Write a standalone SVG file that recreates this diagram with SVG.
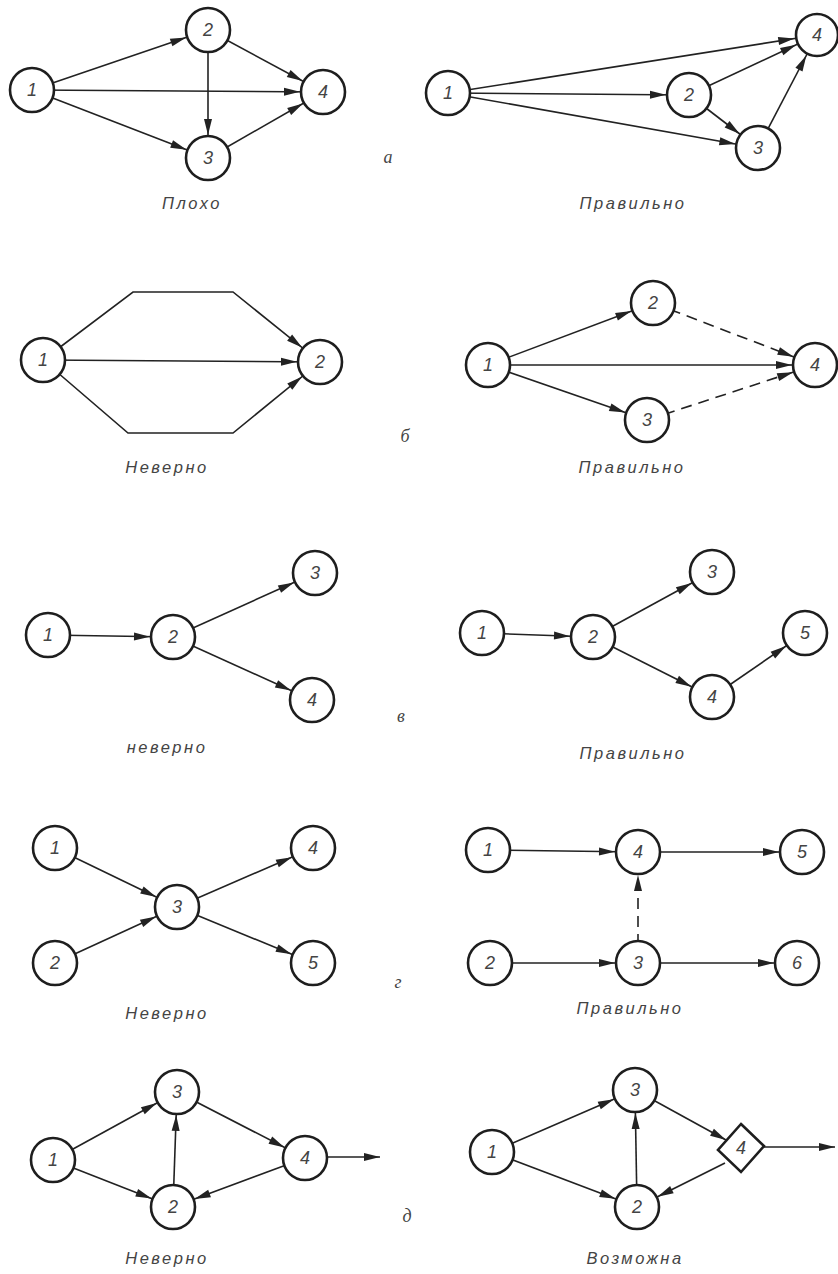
<svg xmlns="http://www.w3.org/2000/svg" width="838" height="1274" viewBox="0 0 838 1274">
  <style>
    .node circle, .node polygon { fill: #fff; stroke: #1e1e1e; stroke-width: 2.6; }
    .node text { font-family: "Liberation Sans", sans-serif; font-style: italic; font-size: 18px; fill: #444; text-anchor: middle; dominant-baseline: central; }
    .edge { fill: none; stroke: #222; stroke-width: 1.6; }
    .to-node { marker-end: url(#head-node); }
    .to-point { marker-end: url(#head); }
    .dash { stroke-dasharray: 11 7; }
    .caption { font-family: "Liberation Sans", sans-serif; font-style: italic; font-size: 16.5px; letter-spacing: 2.5px; fill: #444; text-anchor: middle; }
    .tag { font-family: "Liberation Serif", serif; font-style: italic; font-size: 18px; fill: #444; text-anchor: middle; }
  </style>
  <defs>
    <!-- arrowhead whose tip stops on the rim of a node circle (r 22 + half stroke) -->
    <marker id="head-node" markerUnits="userSpaceOnUse" viewBox="0 0 39 8" markerWidth="39" markerHeight="8" refX="39" refY="4" orient="auto" overflow="visible">
      <path d="M0,0 L16,4 L0,8 z" fill="#222"/>
    </marker>
    <!-- arrowhead whose tip sits on the path end -->
    <marker id="head" markerUnits="userSpaceOnUse" viewBox="0 0 16 8" markerWidth="16" markerHeight="8" refX="16" refY="4" orient="auto" overflow="visible">
      <path d="M0,0 L16,4 L0,8 z" fill="#222"/>
    </marker>
  </defs>
  <rect width="838" height="1274" fill="#fff"/>

  <g id="connectors">
    <!-- а, left -->
    <line class="edge to-node" x1="32" y1="90" x2="208" y2="30"/>
    <line class="edge to-node" x1="32" y1="90" x2="323" y2="92"/>
    <line class="edge to-node" x1="32" y1="90" x2="208" y2="158"/>
    <line class="edge to-node" x1="208" y1="30" x2="208" y2="158"/>
    <line class="edge to-node" x1="208" y1="30" x2="323" y2="92"/>
    <line class="edge to-node" x1="208" y1="158" x2="323" y2="92"/>
    <!-- а, right -->
    <line class="edge to-node" x1="448" y1="93" x2="817" y2="35"/>
    <line class="edge to-node" x1="448" y1="93" x2="689" y2="95"/>
    <line class="edge to-node" x1="448" y1="93" x2="758" y2="148"/>
    <line class="edge to-node" x1="689" y1="95" x2="817" y2="35"/>
    <line class="edge to-node" x1="689" y1="95" x2="758" y2="148"/>
    <line class="edge to-node" x1="758" y1="148" x2="817" y2="35"/>
    <!-- б, left -->
    <path class="edge to-node" d="M43,360 L133,292 L233,292 L320,362"/>
    <line class="edge to-node" x1="43" y1="360" x2="320" y2="362"/>
    <path class="edge to-node" d="M43,360 L128,433 L233,433 L320,362"/>
    <!-- б, right -->
    <line class="edge to-node" x1="488" y1="365" x2="653" y2="303"/>
    <line class="edge to-node" x1="488" y1="365" x2="815" y2="365"/>
    <line class="edge to-node" x1="488" y1="365" x2="647" y2="420"/>
    <line class="edge to-node dash" x1="653" y1="303" x2="815" y2="365"/>
    <line class="edge to-node dash" x1="647" y1="420" x2="815" y2="365"/>
    <!-- в, left -->
    <line class="edge to-node" x1="48" y1="635" x2="173" y2="637"/>
    <line class="edge to-node" x1="173" y1="637" x2="315" y2="573"/>
    <line class="edge to-node" x1="173" y1="637" x2="312" y2="700"/>
    <!-- в, right -->
    <line class="edge to-node" x1="482" y1="633" x2="593" y2="637"/>
    <line class="edge to-node" x1="593" y1="637" x2="712" y2="572"/>
    <line class="edge to-node" x1="593" y1="637" x2="712" y2="697"/>
    <line class="edge to-node" x1="712" y1="697" x2="805" y2="633"/>
    <!-- г, left -->
    <line class="edge to-node" x1="55" y1="848" x2="177" y2="907"/>
    <line class="edge to-node" x1="55" y1="963" x2="177" y2="907"/>
    <line class="edge to-node" x1="177" y1="907" x2="313" y2="848"/>
    <line class="edge to-node" x1="177" y1="907" x2="313" y2="963"/>
    <!-- г, right -->
    <line class="edge to-node" x1="488" y1="850" x2="638" y2="852"/>
    <line class="edge to-node" x1="638" y1="852" x2="802" y2="852"/>
    <line class="edge to-node" x1="490" y1="963" x2="638" y2="963"/>
    <line class="edge to-node" x1="638" y1="963" x2="797" y2="963"/>
    <line class="edge to-node dash" x1="638" y1="963" x2="638" y2="852"/>
    <!-- д, left -->
    <line class="edge to-node" x1="53" y1="1160" x2="177" y2="1092"/>
    <line class="edge to-node" x1="53" y1="1160" x2="173" y2="1207"/>
    <line class="edge to-node" x1="173" y1="1207" x2="177" y2="1092"/>
    <line class="edge to-node" x1="177" y1="1092" x2="305" y2="1158"/>
    <line class="edge to-node" x1="305" y1="1158" x2="173" y2="1207"/>
    <line class="edge to-point" x1="305" y1="1157" x2="380" y2="1157"/>
    <!-- д, right -->
    <line class="edge to-node" x1="492" y1="1152" x2="635" y2="1090"/>
    <line class="edge to-node" x1="492" y1="1152" x2="637" y2="1207"/>
    <line class="edge to-node" x1="637" y1="1207" x2="635" y2="1090"/>
    <line class="edge to-point" x1="635" y1="1090" x2="726" y2="1140"/>
    <line class="edge to-node" x1="725" y1="1163" x2="637" y2="1207"/>
    <line class="edge to-point" x1="760" y1="1147" x2="835" y2="1147"/>
  </g>

  <!-- а -->
  <g id="a-left-n1" class="node"><circle cx="32" cy="90" r="22"/><text x="32" y="90">1</text></g>
  <g id="a-left-n2" class="node"><circle cx="208" cy="30" r="22"/><text x="208" y="30">2</text></g>
  <g id="a-left-n3" class="node"><circle cx="208" cy="158" r="22"/><text x="208" y="158">3</text></g>
  <g id="a-left-n4" class="node"><circle cx="323" cy="92" r="22"/><text x="323" y="92">4</text></g>
  <g id="a-right-n1" class="node"><circle cx="448" cy="93" r="22"/><text x="448" y="93">1</text></g>
  <g id="a-right-n2" class="node"><circle cx="689" cy="95" r="22"/><text x="689" y="95">2</text></g>
  <g id="a-right-n3" class="node"><circle cx="758" cy="148" r="22"/><text x="758" y="148">3</text></g>
  <g id="a-right-n4" class="node"><circle cx="817" cy="35" r="21"/><text x="817" y="35">4</text></g>

  <!-- б -->
  <g id="b-left-n1" class="node"><circle cx="43" cy="360" r="22"/><text x="43" y="360">1</text></g>
  <g id="b-left-n2" class="node"><circle cx="320" cy="362" r="22"/><text x="320" y="362">2</text></g>
  <g id="b-right-n1" class="node"><circle cx="488" cy="365" r="22"/><text x="488" y="365">1</text></g>
  <g id="b-right-n2" class="node"><circle cx="653" cy="303" r="22"/><text x="653" y="303">2</text></g>
  <g id="b-right-n3" class="node"><circle cx="647" cy="420" r="22"/><text x="647" y="420">3</text></g>
  <g id="b-right-n4" class="node"><circle cx="815" cy="365" r="22"/><text x="815" y="365">4</text></g>

  <!-- в -->
  <g id="v-left-n1" class="node"><circle cx="48" cy="635" r="22"/><text x="48" y="635">1</text></g>
  <g id="v-left-n2" class="node"><circle cx="173" cy="637" r="22"/><text x="173" y="637">2</text></g>
  <g id="v-left-n3" class="node"><circle cx="315" cy="573" r="22"/><text x="315" y="573">3</text></g>
  <g id="v-left-n4" class="node"><circle cx="312" cy="700" r="22"/><text x="312" y="700">4</text></g>
  <g id="v-right-n1" class="node"><circle cx="482" cy="633" r="22"/><text x="482" y="633">1</text></g>
  <g id="v-right-n2" class="node"><circle cx="593" cy="637" r="22"/><text x="593" y="637">2</text></g>
  <g id="v-right-n3" class="node"><circle cx="712" cy="572" r="22"/><text x="712" y="572">3</text></g>
  <g id="v-right-n4" class="node"><circle cx="712" cy="697" r="22"/><text x="712" y="697">4</text></g>
  <g id="v-right-n5" class="node"><circle cx="805" cy="633" r="22"/><text x="805" y="633">5</text></g>

  <!-- г -->
  <g id="g-left-n1" class="node"><circle cx="55" cy="848" r="22"/><text x="55" y="848">1</text></g>
  <g id="g-left-n2" class="node"><circle cx="55" cy="963" r="22"/><text x="55" y="963">2</text></g>
  <g id="g-left-n3" class="node"><circle cx="177" cy="907" r="22"/><text x="177" y="907">3</text></g>
  <g id="g-left-n4" class="node"><circle cx="313" cy="848" r="22"/><text x="313" y="848">4</text></g>
  <g id="g-left-n5" class="node"><circle cx="313" cy="963" r="22"/><text x="313" y="963">5</text></g>
  <g id="g-right-n1" class="node"><circle cx="488" cy="850" r="22"/><text x="488" y="850">1</text></g>
  <g id="g-right-n2" class="node"><circle cx="490" cy="963" r="22"/><text x="490" y="963">2</text></g>
  <g id="g-right-n3" class="node"><circle cx="638" cy="963" r="22"/><text x="638" y="963">3</text></g>
  <g id="g-right-n4" class="node"><circle cx="638" cy="852" r="22"/><text x="638" y="852">4</text></g>
  <g id="g-right-n5" class="node"><circle cx="802" cy="852" r="22"/><text x="802" y="852">5</text></g>
  <g id="g-right-n6" class="node"><circle cx="797" cy="963" r="22"/><text x="797" y="963">6</text></g>

  <!-- д -->
  <g id="d-left-n1" class="node"><circle cx="53" cy="1160" r="22"/><text x="53" y="1160">1</text></g>
  <g id="d-left-n2" class="node"><circle cx="173" cy="1207" r="22"/><text x="173" y="1207">2</text></g>
  <g id="d-left-n3" class="node"><circle cx="177" cy="1092" r="22"/><text x="177" y="1092">3</text></g>
  <g id="d-left-n4" class="node"><circle cx="305" cy="1158" r="22"/><text x="305" y="1158">4</text></g>
  <g id="d-right-n1" class="node"><circle cx="492" cy="1152" r="22"/><text x="492" y="1152">1</text></g>
  <g id="d-right-n2" class="node"><circle cx="637" cy="1207" r="22"/><text x="637" y="1207">2</text></g>
  <g id="d-right-n3" class="node"><circle cx="635" cy="1090" r="22"/><text x="635" y="1090">3</text></g>
  <g id="d-right-n4" class="node"><polygon points="741,1124 764,1146 741,1172 718,1150"/><text x="741" y="1148">4</text></g>

  <!-- captions and row letters -->
  <g id="labels">
    <text class="caption" x="192" y="209">Плохо</text>
    <text class="caption" x="633" y="209">Правильно</text>
    <text class="caption" x="167" y="473">Неверно</text>
    <text class="caption" x="632" y="473">Правильно</text>
    <text class="caption" x="167" y="753">неверно</text>
    <text class="caption" x="633" y="759">Правильно</text>
    <text class="caption" x="167" y="1019">Неверно</text>
    <text class="caption" x="630" y="1014">Правильно</text>
    <text class="caption" x="167" y="1264">Неверно</text>
    <text class="caption" x="635" y="1264">Возможна</text>
    <text class="tag" x="388" y="163">а</text>
    <text class="tag" x="405" y="442">б</text>
    <text class="tag" x="401" y="722">в</text>
    <text class="tag" x="398" y="988">г</text>
    <text class="tag" x="407" y="1222">д</text>
  </g>
</svg>
